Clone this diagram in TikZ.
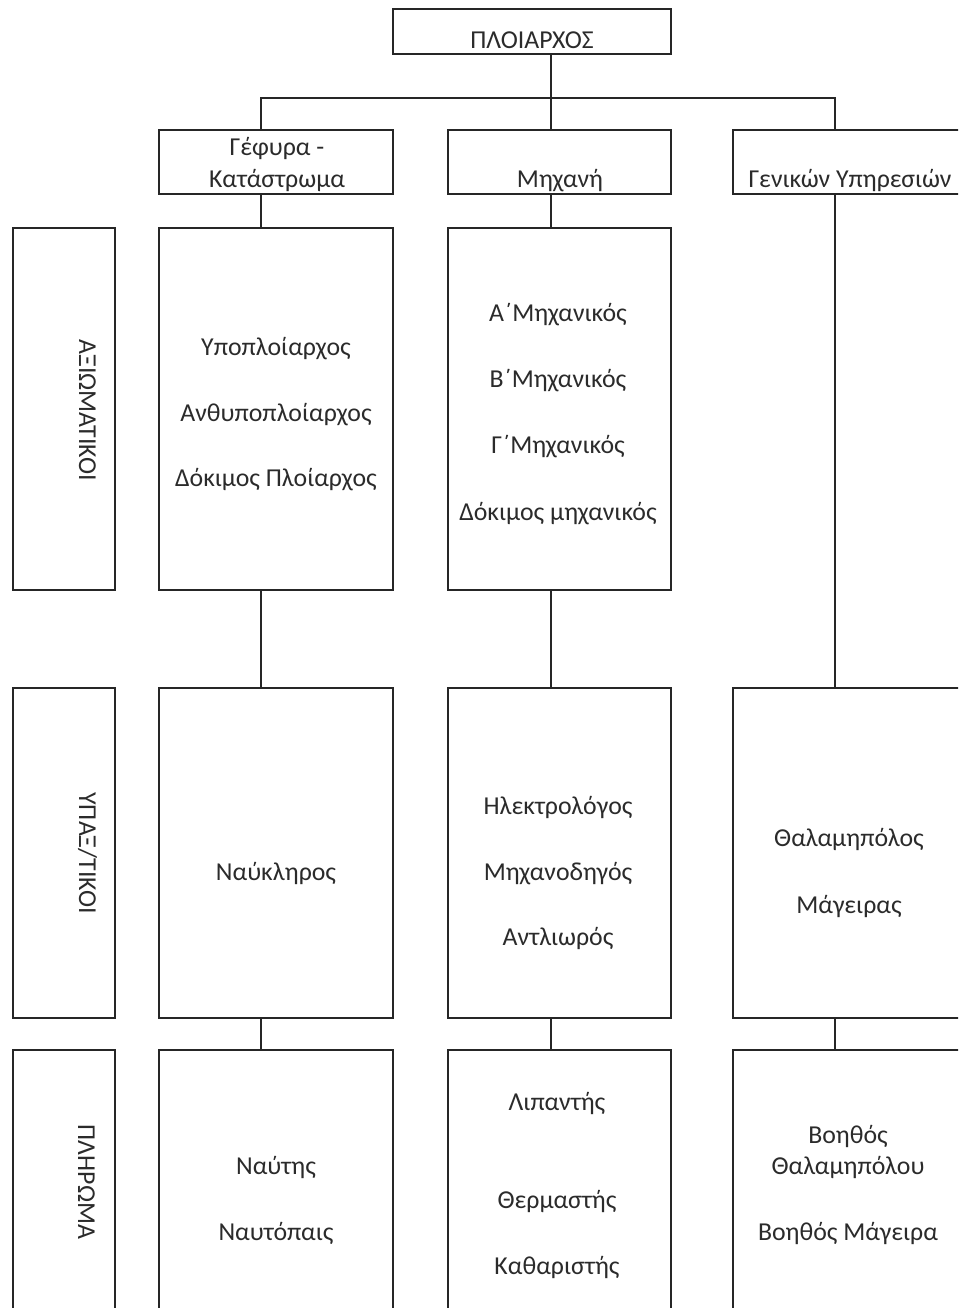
\documentclass[tikz,border=0pt]{standalone}
\usepackage{fontspec}
\setmainfont{Carlito}
\definecolor{linec}{HTML}{262626}
\definecolor{textc}{HTML}{2B2B2B}
\begin{document}
\begin{tikzpicture}[x=1pt,y=-1pt,
  box/.style={draw=linec, line width=1.8pt, inner sep=0pt, anchor=center},
  txt/.style={text=textc, font=\fontsize{25.8}{30}\selectfont, inner sep=0pt, anchor=center, text height=16pt, text depth=0pt},
  vlabel/.style={txt, rotate=-90},
  conn/.style={draw=linec, line width=1.8pt}]
\useasboundingbox (0,0) rectangle (958,1308);
\clip (0,0) rectangle (958,1308);
\fill[white] (0,0) rectangle (958,1308);

% column axes
\coordinate (cL) at (261,0);
\coordinate (cM) at (551,0);
\coordinate (cR) at (835,0);
\coordinate (busL) at (261,98);
\coordinate (busR) at (835,98);

% boxes
\node[box, minimum width=278pt, minimum height=45pt] (top) at (532,31.5) {};
\node[box, minimum width=234pt, minimum height=64pt] (gef) at (276,162) {};
\node[box, minimum width=223pt, minimum height=64pt] (mech) at (559.5,162) {};
\node[box, minimum width=234pt, minimum height=64pt] (gen) at (850,162) {};

\node[box, minimum width=102pt, minimum height=362pt] (labA) at (64,409) {};
\node[box, minimum width=234pt, minimum height=362pt] (gefA) at (276,409) {};
\node[box, minimum width=223pt, minimum height=362pt] (mechA) at (559.5,409) {};

\node[box, minimum width=102pt, minimum height=330pt] (labB) at (64,853) {};
\node[box, minimum width=234pt, minimum height=330pt] (gefB) at (276,853) {};
\node[box, minimum width=223pt, minimum height=330pt] (mechB) at (559.5,853) {};
\node[box, minimum width=234pt, minimum height=330pt] (genB) at (850,853) {};

\node[box, minimum width=102pt, minimum height=300pt] (labC) at (64,1200) {};
\node[box, minimum width=234pt, minimum height=300pt] (gefC) at (276,1200) {};
\node[box, minimum width=223pt, minimum height=300pt] (mechC) at (559.5,1200) {};
\node[box, minimum width=234pt, minimum height=300pt] (genC) at (850,1200) {};

% connectors
\draw[conn] (top.south -| cM) -- (mech.north -| cM);
\draw[conn] (gef.north -| cL) -- (busL) -- (busR) -- (gen.north -| cR);
\draw[conn] (gef.south -| cL) -- (gefA.north -| cL);
\draw[conn] (gefA.south -| cL) -- (gefB.north -| cL);
\draw[conn] (gefB.south -| cL) -- (gefC.north -| cL);
\draw[conn] (mech.south -| cM) -- (mechA.north -| cM);
\draw[conn] (mechA.south -| cM) -- (mechB.north -| cM);
\draw[conn] (mechB.south -| cM) -- (mechC.north -| cM);
\draw[conn] (gen.south -| cR) -- (genB.north -| cR);
\draw[conn] (genB.south -| cR) -- (genC.north -| cR);

% texts
\node[txt] (tTop) at (532,40.5) {ΠΛΟΙΑΡΧΟΣ};
\node[txt] (tGef1) at (277,148) {Γέφυρα -};
\node[txt] (tGef2) at (277,179) {Κατάστρωμα};
\node[txt] (tMech) at (560,180) {Μηχανή};
\node[txt] (tGen) at (850,180) {Γενικών Υπηρεσιών};

\node[vlabel] (tLabA) at (87,410) {ΑΞΙΩΜΑΤΙΚΟΙ};
\node[vlabel] (tLabB) at (87,853) {ΥΠΑΞ/ΤΙΚΟΙ};
\node[vlabel] (tLabC) at (86,1182) {ΠΛΗΡΩΜΑ};

\node[txt] (a1) at (276,347) {Υποπλοίαρχος};
\node[txt] (a2) at (276,413) {Ανθυποπλοίαρχος};
\node[txt] (a3) at (276,478) {Δόκιμος Πλοίαρχος};

\node[txt] (m1) at (558,313) {Α΄Μηχανικός};
\node[txt] (m2) at (558,379) {Β΄Μηχανικός};
\node[txt] (m3) at (558,445) {Γ΄Μηχανικός};
\node[txt] (m4) at (558,512) {Δόκιμος μηχανικός};

\node[txt] (b1) at (276,872) {Ναύκληρος};
\node[txt] (b2) at (558,806) {Ηλεκτρολόγος};
\node[txt] (b3) at (558,872) {Μηχανοδηγός};
\node[txt] (b4) at (558,937) {Αντλιωρός};
\node[txt] (b5) at (849,838) {Θαλαμηπόλος};
\node[txt] (b6) at (849,905) {Μάγειρας};

\node[txt] (c1) at (276,1166) {Ναύτης};
\node[txt] (c2) at (276,1232) {Ναυτόπαις};
\node[txt] (c3) at (557,1102) {Λιπαντής};
\node[txt] (c4) at (557,1200) {Θερμαστής};
\node[txt] (c5) at (557,1266) {Καθαριστής};
\node[txt] (c6) at (848,1135) {Βοηθός};
\node[txt] (c7) at (848,1166) {Θαλαμηπόλου};
\node[txt] (c8) at (848,1232) {Βοηθός Μάγειρα};
\end{tikzpicture}
\end{document}
